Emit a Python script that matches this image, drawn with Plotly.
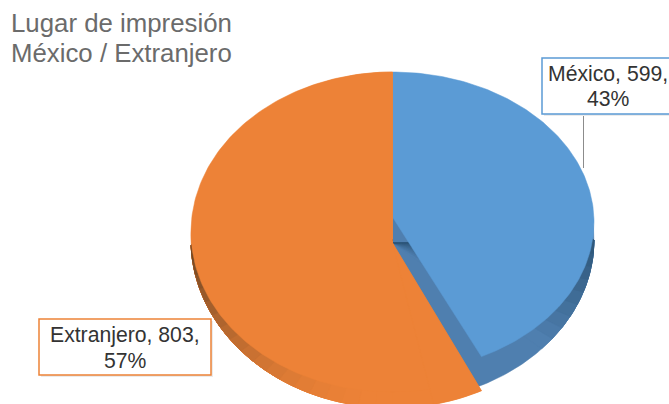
import numpy as np
import plotly.graph_objects as go

categories = ["México", "Extranjero"]
values = [599, 803]
percent_labels = ["43%", "57%"]
face_colors = ["#5B9BD5", "#ED8237"]
title_lines = ["Lugar de impresión", "México / Extranjero"]

W, H = 669, 404
CX, RX = 392.5, 201.5

total = sum(values)
split = values[0] / total


def sector(start_frac, end_frac, cy, ry, apex_y):
    t = 2 * np.pi * np.linspace(start_frac, end_frac, 160)
    x = np.r_[CX, CX + RX * np.sin(t), CX]
    y = np.r_[apex_y, cy - ry * np.cos(t), apex_y]
    return x, y


def mix(c0, c1, f):
    a = np.array(c0, float) + (np.array(c1, float) - np.array(c0, float)) * f
    return "rgb({},{},{})".format(*[int(round(v)) for v in a])


fig = go.Figure()


def add(xy, color, name):
    fig.add_trace(go.Scatter(x=xy[0], y=xy[1], mode="lines", fill="toself", fillcolor=color,
                             line=dict(width=0.5, color=color), name=name,
                             hoverinfo="name", showlegend=False))


# blue slice: shaded side (gradient towards the right edge), then top face
add(sector(0, split + 0.02, 240, 162, 243), "#4F7FAF", categories[0])
steps = 10
for k in range(steps):
    f = k / (steps - 1)
    add(sector(0.25, split - 0.06 - (split - 0.31) * f, 240, 162, 243),
        mix((79, 127, 175), (44, 84, 118), f), categories[0])
add(sector(0, split, 222, 150, 217), face_colors[0], categories[0])

# orange slice: shaded side (gradient towards the left edge), then top face
add(sector(split, 1, 240, 168, 243), face_colors[1], categories[1])
steps = 18
for k in range(steps):
    f = k / (steps - 1)
    add(sector(0.50 + (0.73 - 0.50) * f, 0.745, 240, 168, 240),
        mix((237, 130, 55), (110, 70, 36), f ** 2), categories[1])
add(sector(split + 0.03, 1, 232, 160, 243), face_colors[1], categories[1])
add(sector(split, split + 0.04, 240, 168, 243), face_colors[1], categories[1])

fig.add_shape(type="line", x0=583.5, x1=583.5, y0=114, y1=168, line=dict(color="#8C8C8C", width=1))

boxes = [(542, 690, 58, 114, face_colors[0], 608, 73, 98), (39, 211, 319, 375, face_colors[1], 125, 335, 360)]
for i, (x0, x1, y0, y1, col, tx, ty1, ty2) in enumerate(boxes):
    fig.add_shape(type="rect", x0=x0 + 2, x1=x1 + 2, y0=y0 + 2, y1=y1 + 2, fillcolor="#EBEBEB", line_width=0)
    fig.add_shape(type="rect", x0=x0, x1=x1, y0=y0, y1=y1, fillcolor="white", line=dict(color=col, width=1.5))
    for text, ty in ((f"{categories[i]}, {values[i]},", ty1), (percent_labels[i], ty2)):
        fig.add_annotation(x=tx, y=ty, text=text, showarrow=False,
                           font=dict(family="Liberation Sans", size=21.2, color="#333333"))

for line, ty in zip(title_lines, (23, 53)):
    fig.add_annotation(x=9, y=ty, xanchor="left", text=line, showarrow=False,
                       font=dict(family="Liberation Sans", size=25.8, color="#6B6B6B"))

fig.update_layout(width=W, height=H, margin=dict(l=0, r=0, t=0, b=0), paper_bgcolor="white", plot_bgcolor="white",
                  xaxis=dict(range=[0, W], visible=False, fixedrange=True),
                  yaxis=dict(range=[H, 0], visible=False, fixedrange=True))
fig.write_html("out.html", config={"displayModeBar": False}, default_width=W, default_height=H,
               post_script="document.body.style.margin='0';document.body.style.overflow='hidden';")
